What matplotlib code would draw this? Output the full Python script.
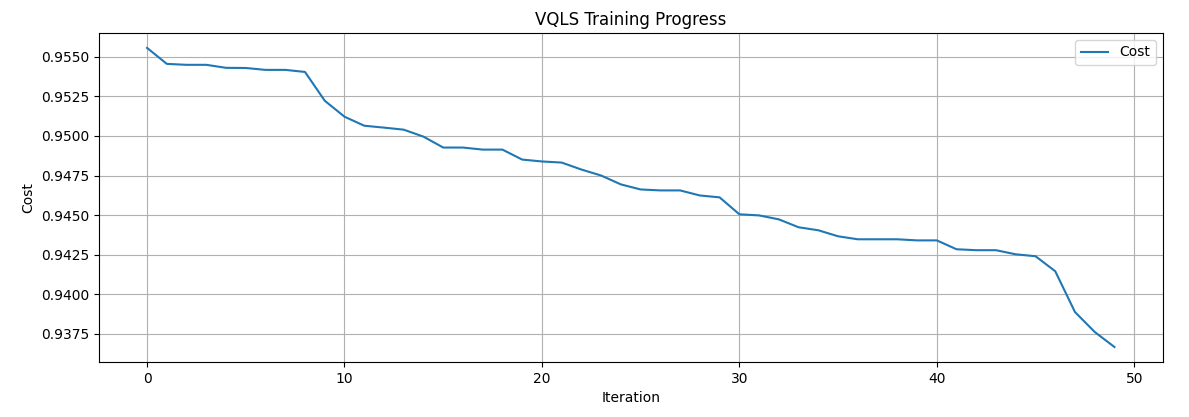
import matplotlib
matplotlib.use("Agg")
import matplotlib.pyplot as plt

iterations = list(range(50))
cost = [0.95557, 0.95456, 0.95450, 0.95450, 0.95431, 0.95430, 0.95418, 0.95418, 0.95405, 0.95223,
        0.95122, 0.95065, 0.95053, 0.95040, 0.94996, 0.94927, 0.94927, 0.94914, 0.94914, 0.94851,
        0.94839, 0.94832, 0.94788, 0.94750, 0.94694, 0.94662, 0.94656, 0.94656, 0.94624, 0.94612,
        0.94505, 0.94498, 0.94473, 0.94423, 0.94404, 0.94366, 0.94347, 0.94347, 0.94347, 0.94340,
        0.94340, 0.94284, 0.94278, 0.94278, 0.94252, 0.94240, 0.94145, 0.93887, 0.93761, 0.93666]

fig, ax = plt.subplots(figsize=(11.89, 4.17), dpi=100)
ax.plot(iterations, cost, label="Cost")
ax.set_title("VQLS Training Progress")
ax.set_xlabel("Iteration")
ax.set_ylabel("Cost")
ax.grid(True)
ax.legend(loc="upper right")
fig.subplots_adjust(left=0.083, right=0.978, top=0.921, bottom=0.132)
plt.savefig("out.png")
